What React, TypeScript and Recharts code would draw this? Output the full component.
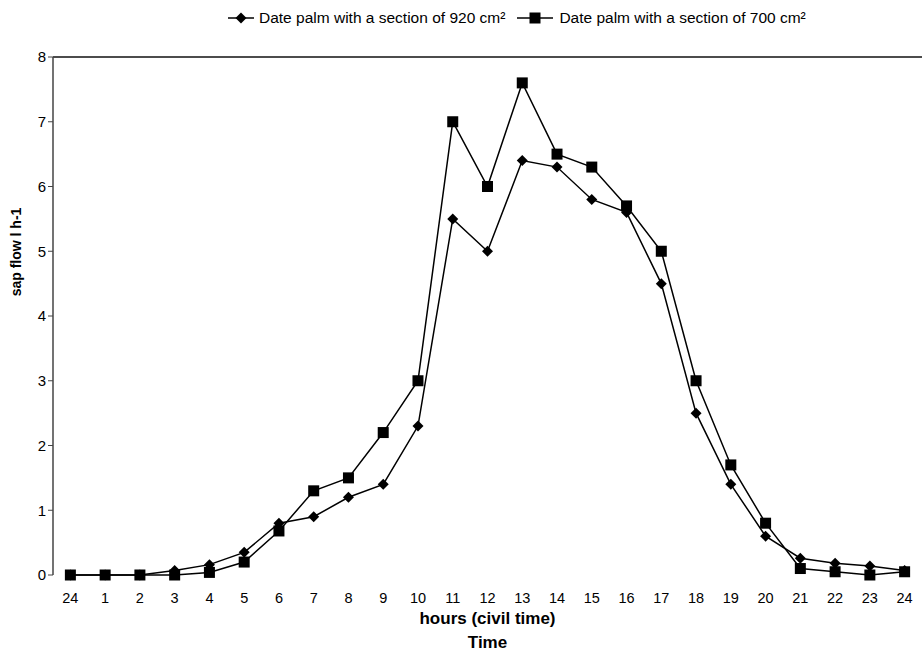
import React from 'react'
import { LineChart, Line, XAxis, YAxis, ReferenceLine } from 'recharts'

const hours = ['24', '1', '2', '3', '4', '5', '6', '7', '8', '9', '10', '11', '12', '13', '14', '15', '16', '17', '18', '19', '20', '21', '22', '23', '24']
const palm920 = [0, 0, 0, 0.07, 0.16, 0.35, 0.8, 0.9, 1.2, 1.4, 2.3, 5.5, 5.0, 6.4, 6.3, 5.8, 5.6, 4.5, 2.5, 1.4, 0.6, 0.26, 0.18, 0.14, 0.07]
const palm700 = [0, 0, 0, 0, 0.04, 0.2, 0.68, 1.3, 1.5, 2.2, 3.0, 7.0, 6.0, 7.6, 6.5, 6.3, 5.7, 5.0, 3.0, 1.7, 0.8, 0.1, 0.05, 0, 0.05]
const yTicks = [0, 1, 2, 3, 4, 5, 6, 7, 8]

const chartData = hours.map((h, i) => ({ x: i, hour: h, a: palm920[i], b: palm700[i] }))
const labelTicks = hours.map((_, i) => i)
const boundaryTicks = [...hours.map((_, i) => i - 0.5), hours.length - 0.5]

const FONT = 'Liberation Sans, Arial, sans-serif'

function Diamond(props: any): React.ReactElement {
  const { cx, cy } = props
  const r = 5.5
  return <polygon points={`${cx},${cy - r} ${cx + r},${cy} ${cx},${cy + r} ${cx - r},${cy}`} fill="#000" />
}

function Square(props: any): React.ReactElement {
  const { cx, cy } = props
  return <rect x={cx - 5.5} y={cy - 5.5} width={11} height={11} fill="#000" />
}

function LegendIcon({ kind, w }: { kind: 'diamond' | 'square'; w: number }): React.ReactElement {
  return (
    <svg width={w} height={12}>
      <line x1={0} y1={6} x2={w} y2={6} stroke="#000" strokeWidth={1.5} />
      {kind === 'diamond' ? <Diamond cx={w / 2} cy={6} /> : <Square cx={w / 2} cy={6} />}
    </svg>
  )
}

function XTitle(props: any): React.ReactElement {
  const { viewBox } = props
  const cx = viewBox.x + viewBox.width / 2
  return (
    <g>
      <text x={cx} y={624} textAnchor="middle" fontFamily={FONT} fontWeight="bold" fontSize={17} fill="#000">hours (civil time)</text>
      <text x={cx} y={648} textAnchor="middle" fontFamily={FONT} fontWeight="bold" fontSize={17} fill="#000">Time</text>
    </g>
  )
}

function YTitle(): React.ReactElement {
  return (
    <text x={21} y={252} transform="rotate(-90 21 252)" textAnchor="middle" fontFamily={FONT} fontWeight="bold" fontSize={14} fill="#000">
      sap flow l h-1
    </text>
  )
}

export default function App(): React.ReactElement {
  return (
    <div style={{ position: 'absolute', left: 0, top: 0, width: 923, height: 656, background: '#fff' }}>
      <div style={{ position: 'absolute', top: 9, left: 228, display: 'flex', alignItems: 'center', fontFamily: FONT, fontSize: 15.5, color: '#000', whiteSpace: 'nowrap' }}>
        <LegendIcon kind="diamond" w={26} />
        <span style={{ marginLeft: 5 }}>Date palm with a section of 920 cm²</span>
        <span style={{ marginLeft: 12, display: 'flex' }}><LegendIcon kind="square" w={36} /></span>
        <span style={{ marginLeft: 6 }}>Date palm with a section of 700 cm²</span>
      </div>
      <LineChart width={923} height={656} data={chartData} margin={{ top: 57, right: 1, bottom: 0, left: 0 }}>
        <XAxis
          xAxisId="grid"
          dataKey="x"
          type="number"
          domain={[-0.5, hours.length - 0.5]}
          ticks={boundaryTicks}
          interval={0}
          tick={false}
          tickSize={5}
          tickLine={{ stroke: '#111' }}
          axisLine={{ stroke: '#111', strokeWidth: 1.5 }}
          height={0}
        />
        <XAxis
          xAxisId="lab"
          dataKey="x"
          type="number"
          domain={[-0.5, hours.length - 0.5]}
          ticks={labelTicks}
          interval={0}
          tickFormatter={(v: number) => hours[v] ?? ''}
          tickLine={false}
          axisLine={false}
          tick={{ fill: '#000', fontSize: 14.5, fontFamily: FONT, dy: 10 }}
          height={81}
          label={<XTitle />}
        />
        <YAxis
          domain={[0, 8]}
          ticks={yTicks}
          interval={0}
          width={53}
          tickSize={5}
          tickLine={{ stroke: '#444' }}
          axisLine={{ stroke: '#444', strokeWidth: 1.5 }}
          tick={{ fill: '#000', fontSize: 15, fontFamily: FONT }}
          label={<YTitle />}
        />
        <ReferenceLine xAxisId="lab" y={8} stroke="#111" strokeWidth={1.5} />
        <Line xAxisId="lab" dataKey="a" stroke="#000" strokeWidth={1.5} dot={<Diamond />} activeDot={false} isAnimationActive={false} />
        <Line xAxisId="lab" dataKey="b" stroke="#000" strokeWidth={1.5} dot={<Square />} activeDot={false} isAnimationActive={false} />
      </LineChart>
    </div>
  )
}
